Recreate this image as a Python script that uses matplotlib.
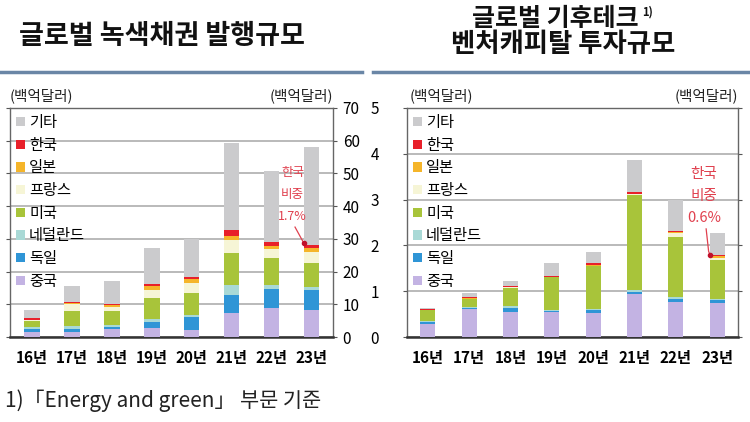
import matplotlib
matplotlib.use("Agg")
import matplotlib.pyplot as plt
from matplotlib.patches import Patch
import numpy as np

plt.rcParams['font.family'] = ['Noto Sans CJK KR', 'DejaVu Sans']

years = ['16년', '17년', '18년', '19년', '20년', '21년', '22년', '23년']
countries = ['중국', '독일', '네덜란드', '미국', '프랑스', '일본', '한국', '기타']
colors = ['#c3b3e3', '#2f95d6', '#a9d9d6', '#a8c43a', '#f6f5d6', '#f5b52a', '#e8202a', '#cbcbcd']

# Left: global green bond issuance (10 billion USD)
china_L = [1.5, 1.5, 2.3, 2.8, 2.0, 7.3, 8.8, 8.3]
germany_L = [0.8, 1.0, 0.8, 1.7, 4.0, 5.5, 5.8, 6.1]
netherlands_L = [0.7, 0.8, 0.7, 1.0, 0.8, 3.1, 1.3, 1.0]
usa_L = [1.8, 4.5, 4.0, 6.5, 6.7, 9.8, 8.2, 7.1]
france_L = [0.3, 2.2, 1.5, 2.5, 3.0, 4.0, 2.7, 3.6]
japan_L = [0.2, 0.4, 0.4, 1.1, 1.2, 1.2, 1.0, 1.0]
korea_L = [0.4, 0.4, 0.4, 0.6, 0.6, 1.8, 1.3, 1.0]
other_L = [2.6, 4.8, 7.0, 11.0, 11.7, 26.5, 21.5, 30.1]

# Right: global climate-tech VC investment (10 billion USD)
china_R = [0.28, 0.62, 0.55, 0.54, 0.52, 0.93, 0.76, 0.74]
germany_R = [0.04, 0.02, 0.08, 0.03, 0.06, 0.05, 0.08, 0.06]
netherlands_R = [0.02, 0.01, 0.04, 0.02, 0.03, 0.04, 0.04, 0.04]
usa_R = [0.24, 0.18, 0.41, 0.71, 0.93, 2.08, 1.30, 0.84]
france_R = [0.01, 0.01, 0.01, 0.01, 0.02, 0.02, 0.08, 0.05]
japan_R = [0.01, 0.01, 0.01, 0.01, 0.02, 0.01, 0.03, 0.03]
korea_R = [0.02, 0.02, 0.02, 0.02, 0.03, 0.03, 0.03, 0.02]
other_R = [0.01, 0.10, 0.10, 0.27, 0.25, 0.70, 0.67, 0.50]

left_series = [china_L, germany_L, netherlands_L, usa_L, france_L, japan_L, korea_L, other_L]
right_series = [china_R, germany_R, netherlands_R, usa_R, france_R, japan_R, korea_R, other_R]

fig = plt.figure(figsize=(7.5, 4.22), dpi=100)
W, H = 750, 422

def ax_rect(x0, y0, x1, y1):
    return [x0 / W, 1 - y1 / H, (x1 - x0) / W, (y1 - y0) / H]

axL = fig.add_axes(ax_rect(10, 108, 333, 337))
axR = fig.add_axes(ax_rect(407, 108, 738, 337))

def draw(ax, series, width, ymax, step):
    x = np.arange(len(years))
    bottom = np.zeros(len(years))
    for vals, c in zip(series, colors):
        v = np.array(vals)
        ax.bar(x, v, width, bottom=bottom, color=c, edgecolor='none', zorder=3)
        bottom += v
    ax.set_ylim(0, ymax)
    ax.set_yticks(np.arange(0, ymax + step / 2, step))
    ax.set_xticks(x)
    ax.set_xticklabels(years, fontsize=11, fontweight='bold')
    ax.tick_params(axis='x', length=0, pad=9)
    ax.grid(axis='y', color='#b4b4b4', linewidth=1.3, zorder=0)
    for s in ['left', 'right', 'top']:
        ax.spines[s].set_color('#666666')
        ax.spines[s].set_linewidth(1.0)
    ax.spines['bottom'].set_color('#333333')
    ax.spines['bottom'].set_linewidth(1.8)
    handles = [Patch(facecolor=colors[i], edgecolor='none', label=countries[i])
               for i in range(len(countries) - 1, -1, -1)]
    ax.legend(handles=handles, loc='upper left', frameon=False, fontsize=11,
              handlelength=0.55, handleheight=0.55, handletextpad=0.3,
              labelspacing=0.37, borderaxespad=0.0, bbox_to_anchor=(0.0, 1.0))

draw(axL, left_series, 0.38, 70, 10)
axL.set_xlim(-0.55, 7.53)
axL.yaxis.tick_right()
axL.tick_params(axis='y', which='both', left=True, right=True, direction='out',
                length=3, color='#555555', labelsize=11, pad=4)

draw(axR, right_series, 0.36, 5, 1)
axR.set_xlim(-0.5, 7.5)
axR.tick_params(axis='y', which='both', left=True, right=True, direction='out',
                length=3, color='#555555', labelsize=11, pad=17)

# unit labels
for x, ha in [(10, 'left'), (333, 'right'), (410, 'left'), (738, 'right')]:
    fig.text(x / W, 1 - 96 / H, '(백억달러)', fontsize=10.5, ha=ha, va='center', color='#222222')

# annotations
red = '#e0404e'
axL.text(6.52, 43.5, '한국\n비중\n1.7%', color=red, fontsize=9, ha='center', va='center', linespacing=1.9, zorder=5)
axL.plot([6.58, 6.8], [33.6, 28.7], color=red, lw=0.9, zorder=5)
axL.plot([6.8], [28.7], marker='o', color='#c0102a', ms=3, zorder=6)

axR.text(6.68, 3.08, '한국\n비중\n0.6%', color=red, fontsize=10.5, ha='center', va='center', linespacing=1.75, zorder=5)
axR.plot([6.73, 6.79, 6.82], [2.36, 1.87, 1.80], color=red, lw=0.9, zorder=5)
axR.plot([6.82], [1.80], marker='o', color='#c0102a', ms=3, zorder=6)

# titles
fig.text(162 / W, 1 - 36 / H, '글로벌 녹색채권 발행규모', fontsize=19.5, fontweight='bold',
         ha='center', va='center', color='#111111')
fig.text(555 / W, 1 - 19 / H, '글로벌 기후테크', fontsize=18, fontweight='bold',
         ha='center', va='center', color='#111111')
fig.text(642 / W, 1 - 12 / H, '1)', fontsize=8, fontweight='bold',
         ha='left', va='center', color='#111111')
fig.text(563 / W, 1 - 45 / H, '벤처캐피탈 투자규모', fontsize=19, fontweight='bold',
         ha='center', va='center', color='#111111')

# separator lines under titles
fig.add_artist(plt.Line2D([0 / W, 362 / W], [1 - 72 / H, 1 - 72 / H], color='#6a86a6', lw=2.5))
fig.add_artist(plt.Line2D([373 / W, 750 / W], [1 - 72 / H, 1 - 72 / H], color='#6a86a6', lw=2.5))

# footnote
fig.text(5 / W, 1 - 401 / H, '1)「Energy and green」 부문 기준', fontsize=15, ha='left', va='center', color='#222222')

fig.savefig('out.png', dpi=100)
